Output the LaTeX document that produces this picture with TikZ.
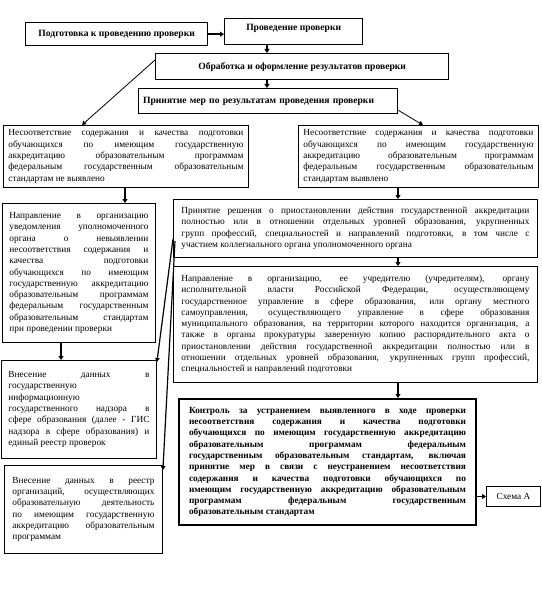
\documentclass[tikz,border=0pt]{standalone}
\usepackage{fontspec}
\setmainfont{Liberation Serif}
\usetikzlibrary{arrows.meta,calc}
\begin{document}
\begin{tikzpicture}[x=1pt,y=-1pt,
  fs/.style={font=\fontsize{9.3}{11.3}\selectfont},
  bx/.style={draw, line width=0.9pt, inner xsep=5pt, inner ysep=0pt, align=justify, anchor=north west, fs},
  bxb/.style={draw, line width=2pt, inner xsep=10pt, inner ysep=0pt, align=justify, anchor=north west, font=\bfseries\fontsize{9.3}{11.3}\selectfont},
  tb/.style={draw, line width=1.3pt, inner sep=0pt, anchor=north west, font=\bfseries\fontsize{9.6}{11}\selectfont},
  arr/.style={line width=1.4pt, -{Triangle[length=4pt,width=5pt]}},
  thinarr/.style={line width=0.8pt, -{Triangle[length=4pt,width=4.5pt]}},
  midarr/.style={line width=1.2pt, -{Triangle[length=4pt,width=4.5pt]}}
]
\useasboundingbox (0,0) rectangle (541,591);

% top boxes
\node[tb, minimum width=182pt, minimum height=23pt] (b1) at (25,22) {Подготовка к проведению проверки};
\node[tb, minimum width=138pt, minimum height=26pt, text height=9pt, text depth=11pt, inner ysep=3pt, align=center] (b2) at (224,18) {Проведение проверки};
\node[tb, minimum width=293pt, minimum height=26pt] (b3) at (155,53) {Обработка и оформление результатов проверки};
\node[tb, text width=250pt, inner xsep=4.5pt, minimum height=25pt, align=left] (b4) at (138,88) {Принятие мер по результатам проведения проверки};

% left column
\node[bx, text width=235pt, minimum height=62pt] (b5) at (3,125) {Несоответствие содержания и качества подготовки\linebreak обучающихся по имеющим государственную\linebreak аккредитацию образовательным программам\linebreak федеральным государственным образовательным\linebreak стандартам не выявлено};

\node[bx, text width=139pt, inner xsep=7pt, minimum height=139pt] (b10) at (2,203) {Направление в организацию\linebreak уведомления уполномоченного\linebreak органа о невыявлении\linebreak несоответствия содержания и\linebreak качества подготовки\linebreak обучающихся по имеющим\linebreak государственную аккредитацию\linebreak образовательным программам\linebreak федеральным государственным\linebreak образовательным стандартам\linebreak при проведении проверки};

\node[bx, text width=141pt, inner xsep=7pt, minimum height=98pt] (b11) at (1,360) {Внесение данных в\linebreak государственную\linebreak информационную\linebreak государственного надзора в\linebreak сфере образования (далее - ГИС\linebreak надзора в сфере образования) и\linebreak единый реестр проверок};

\node[bx, text width=142pt, inner xsep=8pt, minimum height=88pt] (b12) at (4,465) {Внесение данных в реестр\linebreak организаций, осуществляющих\linebreak образовательную деятельность\linebreak по имеющим государственную\linebreak аккредитацию образовательным\linebreak программам};

% right column
\node[bx, text width=230pt, minimum height=62pt] (b6) at (298,125) {Несоответствие содержания и качества подготовки\linebreak обучающихся по имеющим государственную\linebreak аккредитацию образовательным программам\linebreak федеральным государственным образовательным\linebreak стандартам выявлено};

\node[bx, text width=348pt, inner xsep=8pt, minimum height=58pt] (b7) at (173,199) {Принятие решения о приостановлении действия государственной аккредитации\linebreak полностью или в отношении отдельных уровней образования, укрупненных\linebreak групп профессий, специальностей и направлений подготовки, в том числе с\linebreak участием коллегиального органа уполномоченного органа};

\node[bx, text width=348pt, inner xsep=8pt, minimum height=116pt] (b8) at (173,266) {Направление в организацию, ее учредителю (учредителям), органу\linebreak исполнительной власти Российской Федерации, осуществляющему\linebreak государственное управление в сфере образования, или органу местного\linebreak самоуправления, осуществляющего управление в сфере образования\linebreak муниципального образования, на территории которого находится организация, а\linebreak также в органы прокуратуры заверенную копию распорядительного акта о\linebreak приостановлении действия государственной аккредитации полностью или в\linebreak отношении отдельных уровней образования, укрупненных групп профессий,\linebreak специальностей и направлений подготовки};

\node[bxb, text width=277pt, minimum height=126pt] (b9) at (178,398) {Контроль за устранением выявленного в ходе проверки\linebreak несоответствия содержания и качества подготовки\linebreak обучающихся по имеющим государственную аккредитацию\linebreak образовательным программам федеральным\linebreak государственным образовательным стандартам, включая\linebreak принятие мер в связи с неустранением несоответствия\linebreak содержания и качества подготовки обучающихся по\linebreak имеющим государственную аккредитацию образовательным\linebreak программам федеральным государственным\linebreak образовательным стандартам};

\node[draw, line width=0.9pt, anchor=north west, minimum width=54pt, minimum height=20pt, inner sep=0pt, fs] (sA) at (486,486) {Схема А};

% connectors
\coordinate (c1) at (267,0);
\coordinate (c2) at (398,0);
\coordinate (c3) at (125,0);
\coordinate (c4) at (61,0);
\draw[arr] (b1.east) -- (b1.east -| b2.west);
\draw[arr] (b2.south -| c1) -- (b3.north -| c1);
\draw[arr] (b3.south -| c1) -- (b4.north -| c1);
\draw[thinarr] ($(b3.north west)+(0,7)$) -- ($(b5.north west)+(79,0)$);
\draw[thinarr] ($(b4.south east)+(0,-4)$) -- ($(b6.north west)+(125,0)$);
\draw[arr] (b5.south -| c3) -- (b10.north -| c3);
\draw[arr] (b10.south -| c4) -- (b11.north -| c4);
\draw[arr] (b6.south -| c2) -- (b7.north -| c2);
\draw[arr] (b7.south -| c2) -- (b8.north -| c2);
\draw[arr] (b8.south -| c2) -- (b9.north -| c2);
\draw[arr] (sA.west -| b9.east) -- (sA.west);
\draw[midarr] ($(b7.north west)+(0,40)$) -- ($(b11.north east)+(0,2)$);
\draw[midarr] ($(b7.north west)+(2,42)$) -- ($(b12.north east)+(0,5)$);
\end{tikzpicture}
\end{document}
